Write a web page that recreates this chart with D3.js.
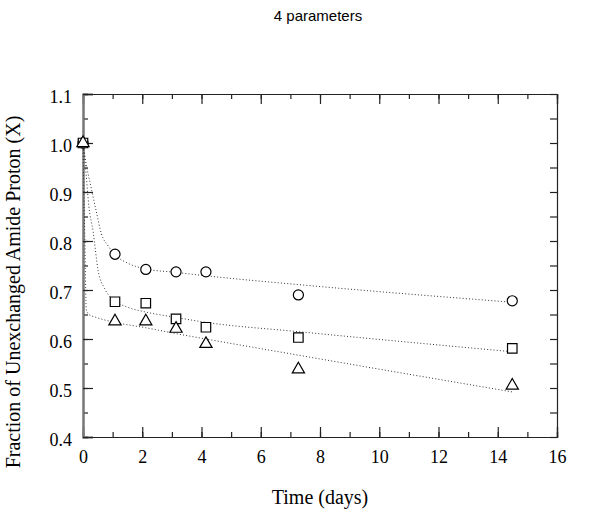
<!DOCTYPE html>
<html><head><meta charset="utf-8">
<script src="https://cdn.jsdelivr.net/npm/d3@7"></script>
<style>
body{margin:0;background:#fff;}
svg{display:block;}
</style></head>
<body>
<svg id="chart" width="600" height="515"></svg>
<script>
// ---- data ----
const title = "4 parameters";
const xLabel = "Time (days)";
const yLabel = "Fraction of Unexchanged Amide Proton (X)";
const xTickValues = [0, 2, 4, 6, 8, 10, 12, 14, 16];
const yTickValues = [0.4, 0.5, 0.6, 0.7, 0.8, 0.9, 1.0, 1.1];

const times = [0, 1.08, 2.12, 3.14, 4.15, 7.27, 14.49];
const circleValues   = [1.0, 0.773, 0.742, 0.737, 0.737, 0.690, 0.678];
const squareValues   = [1.0, 0.676, 0.673, 0.641, 0.624, 0.603, 0.581];
const triangleValues = [1.0, 0.636, 0.636, 0.621, 0.590, 0.538, 0.505];

// fitted curves
const circleFitT   = [0, 0.1, 0.26, 0.45, 0.62, 0.85, 1.08, 1.5, 2.12, 3.14, 4.15, 7.27, 14.49];
const circleFitV   = [1.0, 0.96, 0.913, 0.86, 0.815, 0.79, 0.772, 0.755, 0.743, 0.736, 0.729, 0.711, 0.675];
const squareFitT   = [0, 0.1, 0.2, 0.34, 0.51, 0.73, 0.96, 1.5, 2.12, 3.14, 4.15, 7.27, 14.49];
const squareFitV   = [1.0, 0.94, 0.87, 0.82, 0.74, 0.703, 0.683, 0.665, 0.655, 0.644, 0.634, 0.615, 0.574];
const triangleFitT = [0, 0.02, 0.06, 0.11, 0.2, 0.4, 1.08, 2.12, 3.14, 4.15, 7.27, 14.49];
const triangleFitV = [1.0, 0.93, 0.815, 0.66, 0.65, 0.645, 0.634, 0.623, 0.611, 0.600, 0.567, 0.492];

// ---- layout ----
const svg = d3.select("#chart");
const L = 83, R = 557, T = 94, B = 437;
const x = d3.scaleLinear().domain([0, 16]).range([L, R]);
const y = d3.scaleLinear().domain([0.4, 1.1]).range([B, T]);

const minorX = d3.range(0, 16.001, 1);
const minorY = d3.range(0.4, 1.1001, 0.05).map(v => +v.toFixed(2));

// axes with inward ticks
const gB = svg.append("g").attr("transform", `translate(0,${B})`)
  .call(d3.axisBottom(x).tickValues(minorX).tickSize(-5).tickFormat(""));
const gB2 = svg.append("g").attr("transform", `translate(0,${B})`)
  .call(d3.axisBottom(x).tickValues(xTickValues).tickSize(-10).tickPadding(13).tickFormat(d3.format("d")));
const gT = svg.append("g").attr("transform", `translate(0,${T})`)
  .call(d3.axisTop(x).tickValues(minorX).tickSize(-5).tickFormat(""));
const gT2 = svg.append("g").attr("transform", `translate(0,${T})`)
  .call(d3.axisTop(x).tickValues(xTickValues).tickSize(-10).tickFormat(""));
const gL = svg.append("g").attr("transform", `translate(${L},0)`)
  .call(d3.axisLeft(y).tickValues(minorY).tickSize(-5).tickFormat(""));
const gL2 = svg.append("g").attr("transform", `translate(${L},0)`)
  .call(d3.axisLeft(y).tickValues(yTickValues).tickSize(-10).tickPadding(11).tickFormat(d3.format(".1f")));
const gR = svg.append("g").attr("transform", `translate(${R},0)`)
  .call(d3.axisRight(y).tickValues(minorY).tickSize(-7).tickFormat(""));

[gB, gB2, gT, gT2, gL, gL2, gR].forEach(g => {
  g.selectAll(".domain").attr("stroke", "#222").attr("stroke-width", 1.2);
  g.selectAll(".tick line").attr("stroke", "#222").attr("stroke-width", 1.2);
  g.selectAll("text").attr("font-family", "'Liberation Serif', 'Times New Roman', serif")
    .attr("font-size", 18).attr("fill", "#000");
});
gL.select(".domain").attr("stroke", "#777").attr("stroke-width", 2);
gL2.select(".domain").attr("stroke", "#777").attr("stroke-width", 2);
gL2.selectAll("text").attr("dy", "0.45em");
gB2.selectAll("text").attr("dy", "0.71em");

// fit curves
const line = d3.line().x(d => x(d[0])).y(d => y(d[1])).curve(d3.curveMonotoneX);
const fits = [
  d3.zip(circleFitT, circleFitV),
  d3.zip(squareFitT, squareFitV),
  d3.zip(triangleFitT, triangleFitV)
];
svg.append("g").selectAll("path").data(fits).join("path")
  .attr("d", line).attr("fill", "none")
  .attr("stroke", "#333").attr("stroke-width", 1)
  .attr("stroke-dasharray", "1,2.2");

// markers
const mk = (sym, size, vals) => {
  svg.append("g").selectAll("path").data(d3.zip(times, vals)).join("path")
    .attr("transform", d => `translate(${x(d[0])},${y(d[1])})`)
    .attr("d", d3.symbol().type(sym).size(size)())
    .attr("fill", "#fff").attr("stroke", "#000").attr("stroke-width", 1.2);
};
mk(d3.symbolCircle, 80, circleValues);
mk(d3.symbolSquare, 90, squareValues);
mk(d3.symbolTriangle, 65, triangleValues);

// titles
svg.append("text").attr("x", 318).attr("y", 21).attr("text-anchor", "middle")
  .attr("font-family", "'Liberation Sans', Arial, sans-serif").attr("font-size", 15)
  .text(title);
svg.append("text").attr("x", 320).attr("y", 504).attr("text-anchor", "middle")
  .attr("font-family", "'Liberation Serif', 'Times New Roman', serif").attr("font-size", 20)
  .text(xLabel);
svg.append("text").attr("transform", "translate(20,292) rotate(-90)").attr("text-anchor", "middle")
  .attr("font-family", "'Liberation Serif', 'Times New Roman', serif").attr("font-size", 20)
  .text(yLabel);
</script>
</body></html>
